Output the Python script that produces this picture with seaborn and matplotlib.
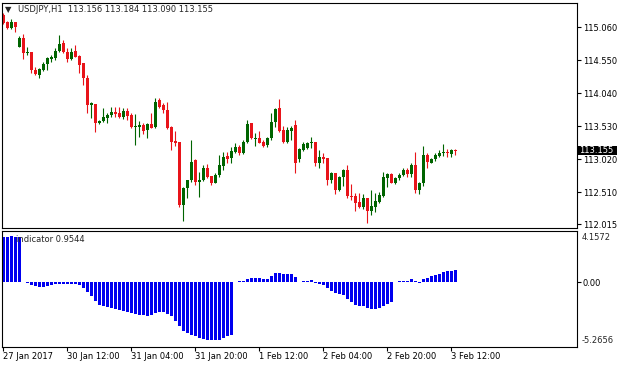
import numpy as np
import pandas as pd
import matplotlib
matplotlib.use("Agg")
import matplotlib.pyplot as plt
import matplotlib.transforms as mtransforms
from matplotlib.patches import Rectangle
import seaborn as sns

# chart texts
symbol_title = "USDJPY,H1  113.156 113.184 113.090 113.155"
indicator_title = "indicator 0.9544"

# H1 candles
opens = [115.250, 115.147, 115.044, 115.137, 114.761, 114.890, 114.658, 114.673, 114.400, 114.323,
         114.400, 114.493, 114.565, 114.580, 114.699, 114.823, 114.683, 114.570, 114.699, 114.616,
         114.503, 114.271, 113.859, 113.870, 113.576, 113.617, 113.653, 113.705, 113.746, 113.741,
         113.669, 113.772, 113.705, 113.514, 113.514, 113.550, 113.473, 113.565, 113.524, 113.936,
         113.859, 113.782, 113.524, 113.302, 113.292, 112.314, 112.571, 112.700, 113.009, 112.674,
         112.700, 112.880, 112.762, 112.659, 112.777, 112.921, 113.076, 113.035, 113.138, 113.215,
         113.122, 113.292, 113.576, 113.328, 113.354, 113.292, 113.241, 113.344, 113.602, 113.808,
         113.473, 113.292, 113.462, 113.550, 113.019, 113.164, 113.200, 113.267, 113.292, 112.958,
         113.060, 113.035, 112.700, 112.803, 112.545, 112.751, 112.854, 112.458, 112.453, 112.365,
         112.288, 112.417, 112.226, 112.288, 112.365, 112.453, 112.736, 112.793, 112.659, 112.726,
         112.777, 112.854, 112.787, 112.932, 112.545, 112.648, 113.086, 112.968, 113.019, 113.076,
         113.112, 113.138, 113.102, 113.156]
highs = [115.276, 115.162, 115.183, 115.147, 114.926, 114.951, 114.750, 114.683, 114.452, 114.426,
         114.529, 114.606, 114.632, 114.745, 114.941, 114.864, 114.735, 114.745, 114.787, 114.632,
         114.503, 114.323, 113.911, 113.870, 113.627, 113.808, 113.741, 113.823, 113.823, 113.833,
         113.808, 113.808, 113.730, 113.720, 113.617, 113.576, 113.586, 113.730, 113.962, 113.962,
         113.885, 113.911, 113.534, 113.462, 113.292, 112.597, 112.700, 113.318, 113.019, 112.829,
         112.932, 112.947, 112.762, 112.803, 113.086, 113.138, 113.138, 113.215, 113.267, 113.241,
         113.318, 113.627, 113.586, 113.421, 113.457, 113.318, 113.370, 113.730, 113.808, 113.952,
         113.534, 113.524, 113.534, 113.627, 113.189, 113.292, 113.292, 113.370, 113.292, 113.164,
         113.112, 113.035, 112.829, 112.813, 112.762, 112.865, 112.932, 112.638, 112.494, 112.504,
         112.484, 112.417, 112.545, 112.504, 112.519, 112.818, 112.803, 112.803, 112.751, 112.813,
         112.880, 112.880, 112.968, 113.128, 112.674, 113.231, 113.112, 113.045, 113.122, 113.164,
         113.256, 113.179, 113.179, 113.184]
lows = [115.111, 115.029, 115.029, 114.993, 114.750, 114.565, 114.632, 114.349, 114.323, 114.271,
        114.385, 114.400, 114.529, 114.555, 114.683, 114.658, 114.519, 114.555, 114.596, 114.349,
        114.168, 113.730, 113.653, 113.447, 113.565, 113.602, 113.586, 113.679, 113.679, 113.653,
        113.638, 113.627, 113.498, 113.241, 113.370, 113.411, 113.344, 113.498, 113.498, 113.808,
        113.730, 113.488, 113.164, 113.231, 112.277, 112.071, 112.417, 112.674, 112.623, 112.442,
        112.690, 112.736, 112.623, 112.648, 112.751, 112.854, 112.958, 112.958, 113.112, 113.086,
        113.102, 113.267, 113.328, 113.231, 113.267, 113.215, 113.215, 113.318, 113.524, 113.447,
        113.267, 113.277, 113.318, 112.813, 112.983, 113.153, 113.174, 113.189, 112.916, 112.891,
        112.958, 112.623, 112.659, 112.478, 112.530, 112.612, 112.417, 112.391, 112.226, 112.262,
        112.247, 112.041, 112.159, 112.211, 112.339, 112.442, 112.597, 112.648, 112.638, 112.700,
        112.767, 112.751, 112.751, 112.504, 112.484, 112.607, 112.891, 112.958, 112.999, 113.050,
        113.071, 113.050, 113.050, 113.090]
closes = [115.121, 115.044, 115.147, 115.070, 114.890, 114.658, 114.683, 114.400, 114.338, 114.416,
          114.493, 114.580, 114.596, 114.699, 114.802, 114.683, 114.570, 114.683, 114.606, 114.477,
          114.271, 113.859, 113.885, 113.586, 113.617, 113.679, 113.705, 113.746, 113.720, 113.669,
          113.772, 113.689, 113.514, 113.534, 113.550, 113.462, 113.565, 113.509, 113.911, 113.823,
          113.782, 113.498, 113.292, 113.277, 112.314, 112.571, 112.700, 112.983, 112.674, 112.700,
          112.880, 112.751, 112.648, 112.777, 112.932, 113.060, 113.019, 113.153, 113.215, 113.122,
          113.292, 113.565, 113.344, 113.354, 113.277, 113.225, 113.344, 113.602, 113.792, 113.462,
          113.292, 113.473, 113.509, 112.958, 113.174, 113.251, 113.277, 113.292, 112.958, 113.060,
          113.024, 112.700, 112.813, 112.545, 112.751, 112.854, 112.458, 112.432, 112.350, 112.288,
          112.417, 112.226, 112.298, 112.375, 112.468, 112.741, 112.793, 112.659, 112.736, 112.777,
          112.854, 112.793, 112.932, 112.545, 112.648, 113.086, 112.983, 113.024, 113.086, 113.122,
          113.138, 113.112, 113.164, 113.155]

# histogram of the sub-window indicator, one value per candle
indicator = [3.70, 3.70, 3.71, 3.70, 3.70, 0.0, -0.08, -0.23, -0.36, -0.42,
             -0.42, -0.36, -0.28, -0.17, -0.15, -0.15, -0.15, -0.15, -0.15, -0.23,
             -0.50, -0.85, -1.17, -1.58, -1.85, -1.99, -2.07, -2.13, -2.18, -2.26,
             -2.34, -2.45, -2.53, -2.61, -2.67, -2.72, -2.80, -2.72, -2.53, -2.45,
             -2.45, -2.61, -2.80, -3.21, -3.61, -3.96, -4.15, -4.29, -4.42, -4.56,
             -4.64, -4.69, -4.75, -4.75, -4.69, -4.56, -4.42, -4.29, 0.0, 0.08,
             0.10, 0.26, 0.31, 0.31, 0.31, 0.26, 0.26, 0.50, 0.72, 0.72,
             0.67, 0.67, 0.67, 0.45, 0.0, 0.08, 0.08, 0.15, -0.08, -0.12,
             -0.23, -0.50, -0.71, -0.90, -0.99, -1.09, -1.36, -1.64, -1.85, -1.93,
             -1.99, -2.12, -2.20, -2.20, -2.12, -1.93, -1.80, -1.66, 0.0, 0.08,
             0.08, 0.12, 0.26, 0.08, -0.08, 0.26, 0.37, 0.50, 0.58, 0.67,
             0.83, 0.86, 0.94, 0.9544]

price_ticks = [115.060, 114.550, 114.040, 113.530, 113.020, 112.510, 112.015]
last_price = 113.155
ind_max, ind_min = 4.1572, -5.2656
time_labels = ["27 Jan 2017", "30 Jan 12:00", "31 Jan 04:00", "31 Jan 20:00",
               "1 Feb 12:00", "2 Feb 04:00", "2 Feb 20:00", "3 Feb 12:00"]
label_step = 16  # bars between two time labels

UP = "#006400"
DOWN = "#e8141a"
BLUE = "#0000f0"

sns.set_style("white")
plt.rcParams["font.family"] = ["DejaVu Sans"]
plt.rcParams["font.size"] = 6
plt.rcParams["axes.edgecolor"] = "black"
plt.rcParams["axes.linewidth"] = 0.8

df = pd.DataFrame({"open": opens, "high": highs, "low": lows, "close": closes, "ind": indicator})
df["bar"] = np.arange(len(df))

W, H = 617, 367
fig = plt.figure(figsize=(W / 100, H / 100), dpi=100)
ax = fig.add_axes([2.3 / W, 1 - 228.3 / H, 574.2 / W, 225.6 / H])
ax2 = fig.add_axes([2.3 / W, 1 - 346.7 / H, 574.2 / W, 115.7 / H], sharex=ax)

# candles
colors = np.where(df["close"] > df["open"], UP, DOWN)
ax.vlines(df["bar"], df["low"], df["high"], colors=colors, lw=0.8)
body = df["close"] - df["open"]
body = np.where(body >= 0, 1, -1) * body.abs().clip(lower=0.012)
ax.bar(df["bar"], body, bottom=df["open"], width=0.62, color=colors, linewidth=0)

ax.set_xlim(-0.25, 143.3)
ax.set_ylim(111.953, 115.440)
ax.yaxis.tick_right()
ax.set_yticks(price_ticks, [f"{v:.3f}" for v in price_ticks])
ax.tick_params(axis="y", right=True, left=False, length=3, width=0.8, pad=1.5,
               labelsize=6, direction="out", colors="black")
ax.tick_params(axis="x", bottom=False, labelbottom=False)
for s in ax.spines.values():
    s.set_visible(True)

# current price marker, box runs to the right edge of the picture
blend = mtransforms.blended_transform_factory(ax.transAxes, ax.transData)
ax.add_patch(Rectangle((1.001, last_price - 0.068), 0.075, 0.136, transform=blend,
                       facecolor="black", edgecolor="none", clip_on=False, zorder=5))
ax.annotate(f"{last_price:.3f}", xy=(1, last_price), xycoords=("axes fraction", "data"),
            xytext=(2.2, 0), textcoords="offset points", va="center", ha="left",
            color="white", fontsize=6, annotation_clip=False, zorder=6)

# indicator window
sns.barplot(data=df, x="bar", y="ind", native_scale=True, color=BLUE, saturation=1,
            width=0.75, linewidth=0, errorbar=None, ax=ax2)
ax2.set_xlabel("")
ax2.set_ylabel("")
ax2.set_ylim(ind_min, ind_max)
ax2.set_xlim(-0.25, 143.3)
ax2.yaxis.tick_right()
ax2.set_yticks([0], ["0.00"])
ax2.tick_params(axis="y", right=True, left=False, length=3, width=0.8, pad=1.5,
                labelsize=6, direction="out", colors="black")
ax2.annotate(f"{ind_max:.4f}", xy=(1, ind_max), xycoords=("axes fraction", "data"),
             xytext=(3.4, -1.5), textcoords="offset points", va="top", ha="left",
             fontsize=6, annotation_clip=False)
ax2.annotate(f"{ind_min:.4f}", xy=(1, ind_min), xycoords=("axes fraction", "data"),
             xytext=(3.4, 1), textcoords="offset points", va="bottom", ha="left",
             fontsize=6, annotation_clip=False)

ax2.set_xticks(df["bar"][::label_step], time_labels)
ax2.tick_params(axis="x", bottom=True, length=3, width=0.8, pad=1, labelsize=6,
                direction="out", colors="black")
for lbl in ax2.get_xticklabels():
    lbl.set_horizontalalignment("left")
for s in ax2.spines.values():
    s.set_visible(True)

# window captions
fig.text(5 / W, 1 - 10 / H, "\u25bc", fontsize=6, va="center", ha="left")
fig.text(18 / W, 1 - 10 / H, symbol_title, fontsize=6, va="center", ha="left")
fig.text(16 / W, 1 - 240 / H, indicator_title, fontsize=6, va="center", ha="left")

fig.savefig("out.png", dpi=100)
